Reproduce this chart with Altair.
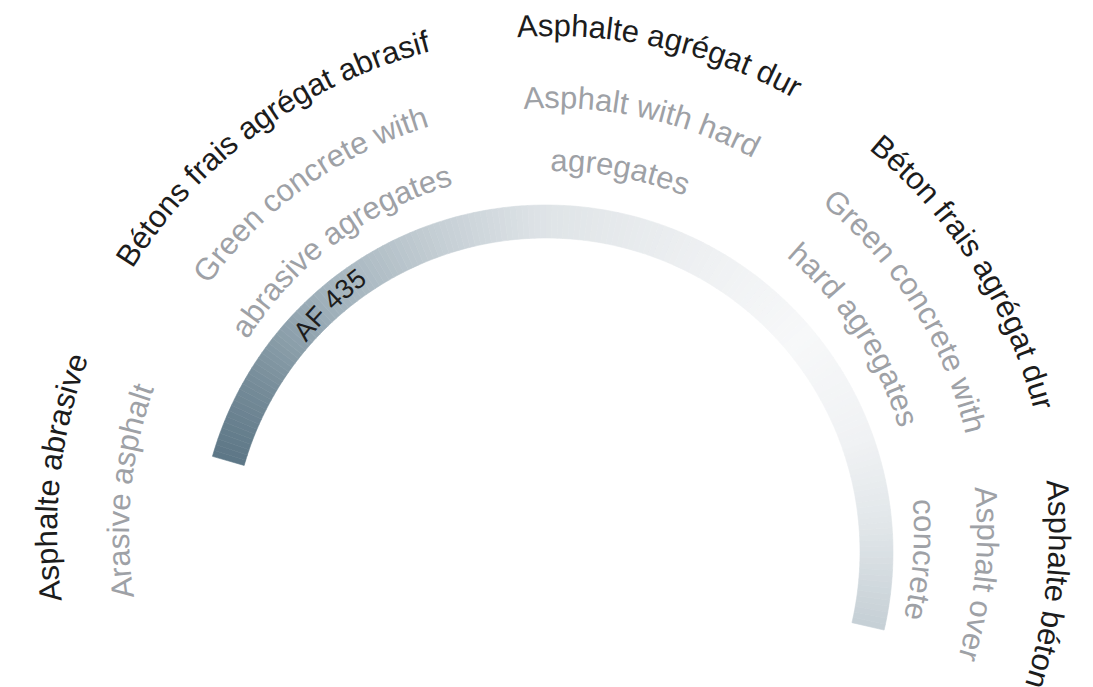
import math
import numpy as np
import pandas as pd
import altair as alt

# ---- data (gauge positions in degrees, clockwise from 12 o'clock) ----
fr_labels = ["Asphalte abrasive", "Bétons frais agrégat abrasif", "Asphalte agrégat dur",
             "Béton frais agrégat dur", "Asphalte béton"]
fr_angles = [-83.7, -36.1, 12.5, 57.7, 96.0]

en_line1 = ["Arasive asphalt", "Green concrete with", "Asphalt with hard",
            "Green concrete with", "Asphalt over"]
en_line1_angles = [-84.5, -35.6, 12.1, 58.0, 95.6]

en_line2 = ["abrasive agregates", "agregates", "hard agregates", "concrete"]
en_line2_angles = [-36.9, 10.5, 56.8, 94.3]

marker_label = ["AF 435"]
marker_angle = [-44.5]

band_start = -74
band_end = 103
gradient_angles = [-74, -60, -41, -20, 0, 30, 50, 70, 85, 103]
gradient_colors = ["#5c7686", "#768c99", "#a0b1bb", "#c3cdd3", "#dfe4e7",
                   "#eff1f3", "#f7f8f9", "#f0f2f4", "#e2e7ea", "#c5cfd5"]

# ---- layout / style ----
RING_IDS = [1, 2, 3, 4]            # marker, en line 2, en line 1, fr
RING_RADII = [311, 361, 424, 496]  # baseline radii in px
FONT = "Liberation Sans"
SIZES = {"marker": 27, "en": 31, "fr": 31}

# Arial / Liberation Sans advance widths (per 1000 em)
ADV = {"A": 667, "B": 667, "F": 611, "G": 778, " ": 278, "a": 556, "b": 556, "c": 500,
       "d": 556, "e": 556, "é": 556, "f": 278, "g": 556, "h": 556, "i": 222, "l": 222,
       "n": 556, "o": 556, "p": 556, "r": 333, "s": 500, "t": 278, "u": 556, "v": 500,
       "w": 722, "3": 556, "4": 556, "5": 556}


def glyph_rows(text, angle, ring, kind):
    size = SIZES[kind]
    r = RING_RADII[RING_IDS.index(ring)]
    widths = [ADV.get(c, 556) * size / 1000 for c in text]
    total = sum(widths)
    cum = 0.0
    rows = []
    for c, w in zip(text, widths):
        s = cum + w / 2 - total / 2
        cum += w
        if c == " ":
            continue
        th = angle + math.degrees(s / r)
        rows.append({"ch": c, "th": th, "ring": ring, "kind": kind})
    return rows


rows = []
for t, a in zip(fr_labels, fr_angles):
    rows += glyph_rows(t, a, 4, "fr")
for t, a in zip(en_line1, en_line1_angles):
    rows += glyph_rows(t, a, 3, "en")
for t, a in zip(en_line2, en_line2_angles):
    rows += glyph_rows(t, a, 2, "en")
for t, a in zip(marker_label, marker_angle):
    rows += glyph_rows(t, a, 1, "marker")
glyphs = pd.DataFrame(rows)

edges = np.linspace(band_start, band_end, 178)
band = pd.DataFrame({"a0": edges[:-1], "a1": edges[1:]})
band["mid"] = (band["a0"] + band["a1"]) / 2

theta_scale = alt.Scale(domain=[-180, 180], range=[-math.pi, math.pi])
grad_scale = alt.Scale(domain=gradient_angles, range=gradient_colors, interpolate="rgb")
radius_scale = alt.Scale(type="linear", domain=RING_IDS, range=RING_RADII, zero=False)

band_layer = alt.Chart(band).mark_arc(radius=347, radius2=314, strokeWidth=0.6).encode(
    x=alt.value(538), y=alt.value(544),
    theta=alt.Theta("a0:Q", scale=theta_scale, stack=False),
    theta2="a1:Q",
    color=alt.Color("mid:Q", scale=grad_scale, legend=None),
    stroke=alt.Stroke("mid:Q", scale=grad_scale, legend=None),
)


def text_layer(kind, color):
    return alt.Chart(glyphs).transform_filter(alt.datum.kind == kind).mark_text(
        font=FONT, fontSize=SIZES[kind], color=color, align="center", baseline="alphabetic"
    ).encode(
        x=alt.value(545), y=alt.value(524),
        theta=alt.Theta("th:Q", scale=theta_scale, stack=False),
        radius=alt.Radius("ring:Q", scale=radius_scale),
        angle=alt.Angle("th:Q", scale=None),
        text="ch:N",
    )


chart = alt.layer(
    band_layer,
    text_layer("en", "#9ea1a6"),
    text_layer("fr", "#1c1c1c"),
    text_layer("marker", "#1c1c1c"),
).properties(width=1077, height=679, padding=0, autosize="none").configure_view(stroke=None)

chart.save("out.html", embed_options={"renderer": "svg", "actions": False})
